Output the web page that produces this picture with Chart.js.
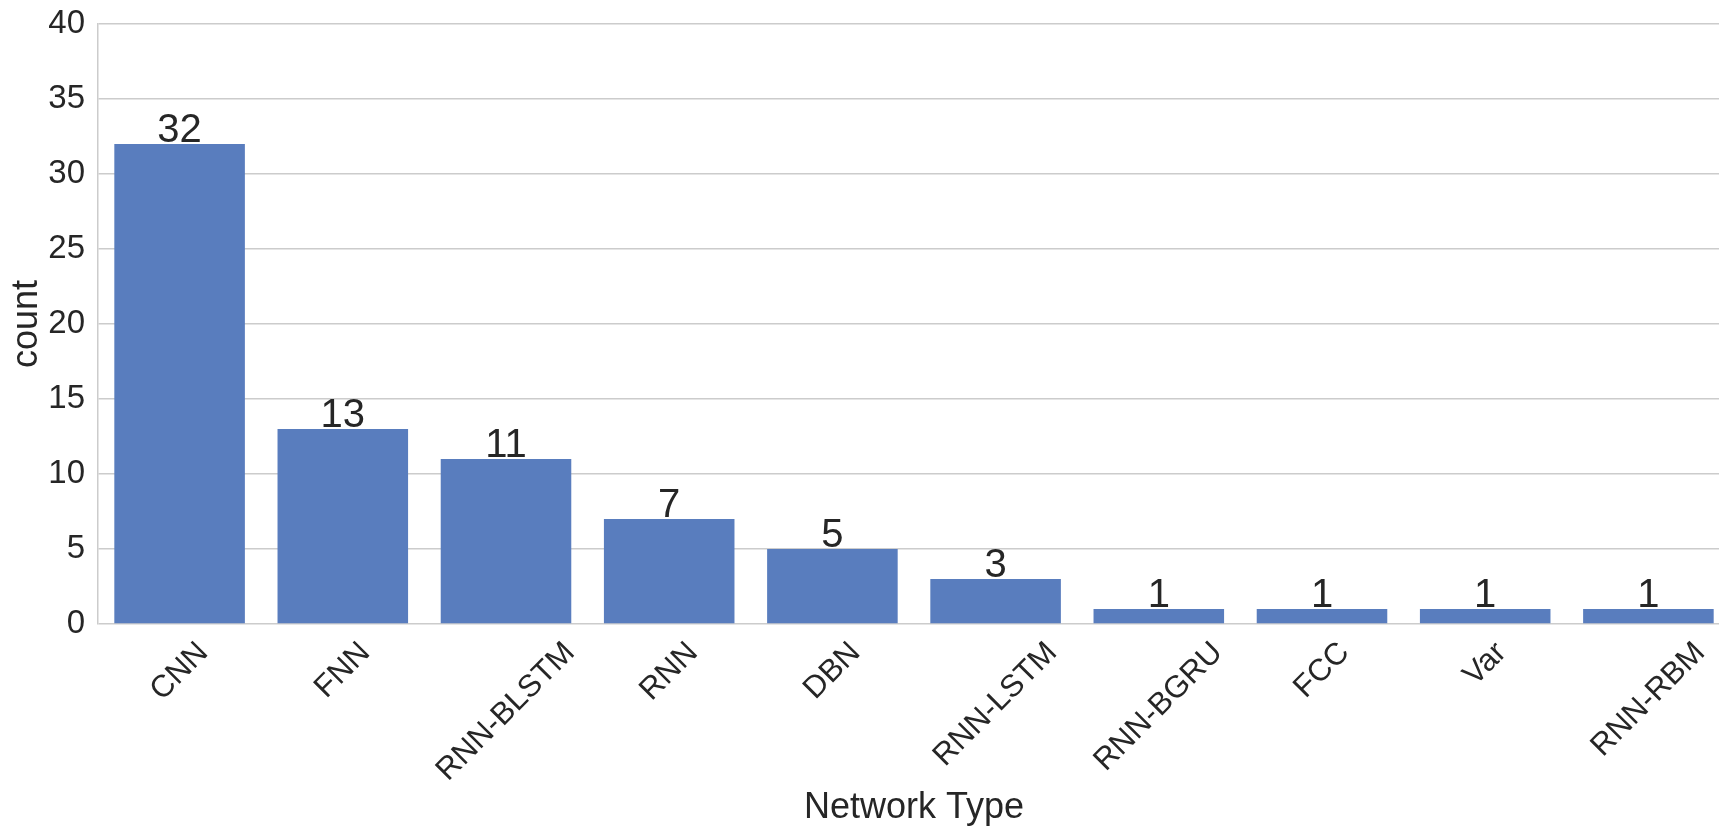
<!DOCTYPE html>
<html>
<head>
<meta charset="utf-8">
<script src="https://cdn.jsdelivr.net/npm/chart.js@4/dist/chart.umd.min.js"></script>
<style>
  html, body { margin: 0; padding: 0; background: #fff; overflow: hidden; }
  canvas { display: block; }
</style>
</head>
<body>
<canvas id="chart1" width="1730" height="830"></canvas>
<script>
// data
var networkTypes = ['CNN', 'FNN', 'RNN-BLSTM', 'RNN', 'DBN', 'RNN-LSTM', 'RNN-BGRU', 'FCC', 'Var', 'RNN-RBM'];
var counts = [32, 13, 11, 7, 5, 3, 1, 1, 1, 1];
var yTicks = [0, 5, 10, 15, 20, 25, 30, 35, 40];

var fontFamily = '"Liberation Sans", Arial, sans-serif';
var textColor = '#262626';
var gridColor = '#cccccc';

// numbers on top of the bars
var barValues = {
  id: 'barValues',
  afterDatasetsDraw: function (chart) {
    var ctx = chart.ctx;
    var meta = chart.getDatasetMeta(0);
    ctx.save();
    ctx.font = '40px ' + fontFamily;
    ctx.fillStyle = textColor;
    ctx.textAlign = 'center';
    ctx.textBaseline = 'alphabetic';
    meta.data.forEach(function (bar, i) {
      ctx.fillText(String(counts[i]), bar.x, bar.y - 2);
    });
    ctx.restore();
  }
};

// x labels rotated 45deg, centred on the tick like matplotlib does
var rotatedLabels = {
  id: 'rotatedLabels',
  afterDraw: function (chart) {
    var ctx = chart.ctx;
    var xScale = chart.scales.x;
    var size = 31;
    ctx.save();
    ctx.font = size + 'px ' + fontFamily;
    ctx.fillStyle = textColor;
    ctx.textAlign = 'center';
    ctx.textBaseline = 'middle';
    networkTypes.forEach(function (label, i) {
      var w = ctx.measureText(label).width;
      var half = (w + size * 0.716) * Math.SQRT1_2 / 2;
      var cx = xScale.getPixelForTick(i);
      var cy = chart.chartArea.bottom + 16 + half;
      ctx.save();
      ctx.translate(cx, cy);
      ctx.rotate(-Math.PI / 4);
      ctx.fillText(label, 0, 0);
      ctx.restore();
    });
    ctx.restore();
  }
};

var config = {
  type: 'bar',
  data: {
    labels: networkTypes,
    datasets: [{
      label: 'count',
      data: counts,
      backgroundColor: 'rgb(89, 125, 190)',
      borderWidth: 0,
      categoryPercentage: 1.0,
      barPercentage: 0.8
    }]
  },
  options: {
    responsive: false,
    animation: false,
    layout: { padding: { top: 24, left: 0, right: 0, bottom: 0 } },
    plugins: {
      legend: { display: false },
      tooltip: { enabled: false }
    },
    scales: {
      x: {
        grid: { display: false },
        border: { display: false },
        ticks: { display: false },
        title: {
          display: true,
          text: 'Network Type',
          color: textColor,
          font: { family: fontFamily, size: 36 },
          padding: { top: 0, bottom: 0 }
        },
        afterFit: function (scale) { scale.height = 206; }
      },
      y: {
        min: 0,
        max: 40,
        afterBuildTicks: function (scale) {
          scale.ticks = yTicks.map(function (v) { return { value: v }; });
        },
        grid: { color: gridColor, lineWidth: 1.5, drawTicks: false },
        border: { display: true, color: gridColor, width: 1.5 },
        ticks: {
          color: textColor,
          padding: 13,
          font: { family: fontFamily, size: 33 }
        },
        title: {
          display: true,
          text: 'count',
          color: textColor,
          font: { family: fontFamily, size: 36 },
          padding: { top: 5, bottom: 0 }
        },
        afterFit: function (scale) {
          scale.width = 98;
          scale.paddingTop = 0;
          scale.paddingBottom = 0;
        }
      }
    }
  },
  plugins: [barValues, rotatedLabels]
};

var ctx = document.getElementById('chart1').getContext('2d');
window.chart1 = new Chart(ctx, config);
</script>
</body>
</html>
